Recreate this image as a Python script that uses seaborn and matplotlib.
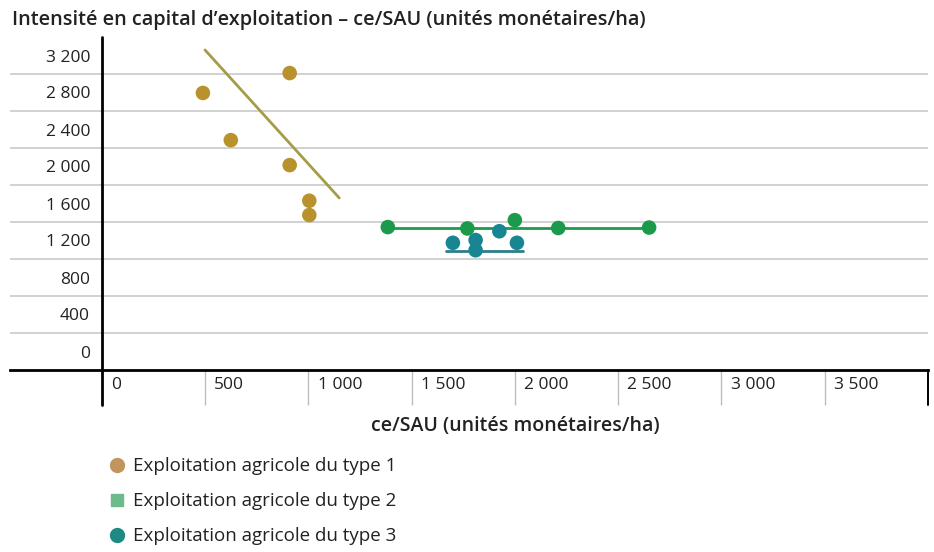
import matplotlib
matplotlib.use("Agg")
import matplotlib.pyplot as plt
from matplotlib.lines import Line2D
import seaborn as sns
import pandas as pd

# ---- data -------------------------------------------------------------
type_labels = ["Exploitation agricole du type 1",
               "Exploitation agricole du type 2",
               "Exploitation agricole du type 3"]

type1_x = [490, 910, 625, 910, 1005, 1005]
type1_y = [2995, 3210, 2485, 2215, 1830, 1675]

type2_x = [1385, 1770, 2000, 2210, 2650]
type2_y = [1545, 1530, 1620, 1535, 1540]

type3_x = [1700, 1810, 1810, 1925, 2010]
type3_y = [1375, 1405, 1295, 1500, 1375]

# trend lines drawn for each farm type (end points)
trend1_x = [500, 1150]
trend1_y = [3460, 1860]
trend2_x = [1385, 2650]
trend2_y = [1530, 1530]
trend3_x = [1665, 2040]
trend3_y = [1285, 1285]

x_ticks = [0, 500, 1000, 1500, 2000, 2500, 3000, 3500]
x_tick_labels = ["0", "500", "1 000", "1 500", "2 000", "2 500", "3 000", "3 500"]
y_ticks = [0, 400, 800, 1200, 1600, 2000, 2400, 2800, 3200]
y_tick_labels = ["0", "400", "800", "1 200", "1 600", "2 000", "2 400", "2 800", "3 200"]

title = "Intensité en capital d’exploitation – ce/SAU (unités monétaires/ha)"
x_title = "ce/SAU (unités monétaires/ha)"

# ---- styling ----------------------------------------------------------
point_colors = ["#b8922c", "#1c9a4c", "#178592"]
line_colors = ["#a49c48", "#1c9a4c", "#2a7f8a"]
legend_colors = ["#c0955e", "#6dbb8a", "#1f8a82"]
text_color = "#222222"

sns.set_theme(style="white")
plt.rcParams["font.family"] = ["Open Sans", "DejaVu Sans"]

W, H = 934, 552
fig = plt.figure(figsize=(W / 100, H / 100), dpi=100)
fig.patch.set_facecolor("white")

# axes from px 10 to 928 horizontally, px 37 to 370 vertically
AX_H = 333
ax = fig.add_axes([10 / W, (H - 370) / H, 918 / W, AX_H / H])
ax.set_facecolor("white")
x0_px, x4000_px = 101.7, 928.0
scale = (x4000_px - x0_px) / 4000
ax.set_xlim(-(x0_px - 10) / scale, 4000)
ax.set_ylim(0, 3600)

frames = []
for lab, xs, ys in zip(type_labels, [type1_x, type2_x, type3_x], [type1_y, type2_y, type3_y]):
    frames.append(pd.DataFrame({"x": xs, "y": ys, "type": lab}))
df = pd.concat(frames, ignore_index=True)

trends = pd.concat([
    pd.DataFrame({"x": trend1_x, "y": trend1_y, "type": type_labels[0]}),
    pd.DataFrame({"x": trend2_x, "y": trend2_y, "type": type_labels[1]}),
    pd.DataFrame({"x": trend3_x, "y": trend3_y, "type": type_labels[2]}),
], ignore_index=True)

# horizontal grid lines sit half a band away from the labels
for v in y_ticks[1:]:
    ax.axhline(v, color="#c9c9c9", lw=1.2, zorder=0)

sns.lineplot(data=trends, x="x", y="y", hue="type", palette=line_colors,
             lw=2, legend=False, ax=ax, zorder=2, estimator=None, sort=False)
sns.scatterplot(data=df, x="x", y="y", hue="type", palette=point_colors,
                s=110, linewidth=0, legend=False, ax=ax, zorder=3)

for s in ["left", "top", "right"]:
    ax.spines[s].set_visible(False)
ax.spines["bottom"].set_color("black")
ax.spines["bottom"].set_linewidth(2)

# x axis: separators below the axis, labels left-aligned inside each cell
ax.set_xticks(x_ticks[1:])
ax.set_xticklabels([""] * (len(x_ticks) - 1))
ax.tick_params(axis="x", which="major", bottom=True, direction="out",
               length=25, width=1, color="#bdbdbd")

# vertical axis line at x = 0 (running below the x axis) and right border
drop = 35 / AX_H
ax.axvline(0, ymin=-drop, ymax=1, color="black", lw=2, zorder=4, clip_on=False)
ax.axvline(4000, ymin=-drop, ymax=0, color="black", lw=1.4, zorder=4, clip_on=False)

ax.set_xticks([v + 45 for v in x_ticks], minor=True)
ax.set_xticklabels(x_tick_labels, minor=True, ha="left")
ax.tick_params(axis="x", which="minor", bottom=True, length=0, pad=5,
               labelsize=12.5, labelcolor=text_color)

# y axis: labels centred in each band, right-aligned left of the axis line
ax.set_yticks([])
ax.set_yticks([v + 200 for v in y_ticks], minor=True)
ax.set_yticklabels(y_tick_labels, minor=True)
ax.tick_params(axis="y", which="minor", left=True, length=0,
               pad=-(90 - 10) * 0.72, labelsize=12.5, labelcolor=text_color)

ax.set_xlabel(x_title, fontsize=14, fontweight="semibold", color=text_color)
ax.xaxis.set_label_coords((515 - 10) / 918, (370 - 416) / 333)
ax.set_ylabel("")

fig.text(12 / W, 1 - 20 / H, title, fontsize=14.3, fontweight="semibold",
         color=text_color, ha="left", va="center")

handles = [
    Line2D([], [], marker="o", ls="", color=legend_colors[0], markersize=10),
    Line2D([], [], marker="s", ls="", color=legend_colors[1], markersize=8.5),
    Line2D([], [], marker="o", ls="", color=legend_colors[2], markersize=10),
]
fig.legend(handles, type_labels, loc="upper left",
           bbox_to_anchor=(100 / W, 1 - 448 / H), frameon=False,
           fontsize=13.5, labelspacing=0.9, handlelength=0.8,
           handletextpad=0.45, borderpad=0, labelcolor=text_color)

fig.savefig("out.png", dpi=100, facecolor="white")
